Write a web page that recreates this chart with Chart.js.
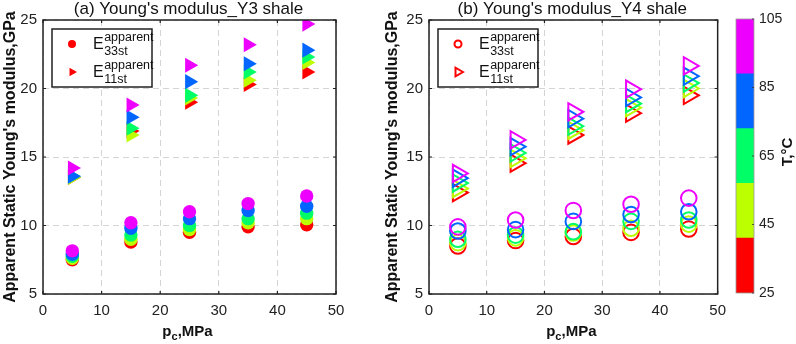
<!DOCTYPE html>
<html>
<head>
<meta charset="utf-8">
<script src="https://cdn.jsdelivr.net/npm/chart.js@4"></script>
<style>
  body { margin: 0; background: #fff; }
  #wrap { position: relative; width: 796px; height: 344px; overflow: hidden; }
  canvas { position: absolute; top: 0; }
</style>
</head>
<body>
<div id="wrap">
  <canvas id="left" width="372" height="344" style="left:0px"></canvas>
  <canvas id="right" width="359" height="344" style="left:375px"></canvas>
  <canvas id="cbar" width="76" height="344" style="left:720px"></canvas>
</div>
<script>
// confining pressure (MPa) and temperature levels (°C)
const pressure = [5, 15, 25, 35, 45];
const temps = [25, 45, 65, 85, 105];
const tempColors = ['#ff0000', '#bbff00', '#00ff66', '#0066ff', '#ee00ff'];
// colour bands of the colorbar (5 equal bands between 25 and 105)
const cbarEdges = [25, 41, 57, 73, 89, 105];
const xTicks = [0, 10, 20, 30, 40, 50];
const yTicks = [5, 10, 15, 20, 25];

// Y3 shale, one row per temperature (25 .. 105)
const y3E33 = [
    [7.5, 8.8, 9.5, 9.9, 10.05],
    [7.6, 9.0, 9.7, 10.2, 10.5],
    [7.75, 9.3, 10.0, 10.5, 10.9],
    [7.9, 9.8, 10.5, 11.1, 11.4],
    [8.15, 10.2, 11.0, 11.6, 12.15]
];
const y3E11 = [
    [13.5, 16.9, 19.0, 20.3, 21.2],
    [13.5, 16.6, 19.3, 20.6, 21.9],
    [13.6, 17.1, 19.5, 21.2, 22.3],
    [13.6, 17.9, 20.5, 21.8, 22.8],
    [14.2, 18.8, 21.7, 23.2, 24.7]
];
// Y4 shale
const y4E33 = [
    [8.5, 8.9, 9.2, 9.5, 9.75],
    [8.75, 9.1, 9.45, 9.8, 10.1],
    [9.0, 9.3, 9.55, 10.3, 10.4],
    [9.6, 9.7, 10.3, 10.8, 11.0],
    [9.9, 10.4, 11.1, 11.55, 12.0]
];
const y4E11 = [
    [12.4, 14.55, 16.6, 18.2, 19.5],
    [12.7, 14.9, 16.95, 18.6, 20.0],
    [13.1, 15.3, 17.25, 18.9, 20.4],
    [13.45, 15.75, 17.8, 19.35, 20.9],
    [13.8, 16.25, 18.3, 19.95, 21.65]
];

const FONT = '"Liberation Sans", Arial, sans-serif';

// build datasets; later temperatures go first so they end up on top
function buildDatasets(e33, e11, filled) {
    const sets = [];
    for (let i = temps.length - 1; i >= 0; i--) {
        sets.push({
            label: 'E33 ' + temps[i],
            data: pressure.map((p, j) => ({x: p, y: e33[i][j]})),
            pointStyle: 'circle',
            pointRadius: filled ? 6.7 : 7.8,
            borderWidth: filled ? 0 : 2,
            borderColor: tempColors[i],
            backgroundColor: filled ? tempColors[i] : 'rgba(0,0,0,0)',
            showLine: false
        });
    }
    for (let i = temps.length - 1; i >= 0; i--) {
        sets.push({
            label: 'E11 ' + temps[i],
            data: pressure.map((p, j) => ({x: p, y: e11[i][j]})),
            pointStyle: 'triangle',
            rotation: 90,
            pointRadius: filled ? 8.7 : 10,
            borderWidth: filled ? 0 : 2,
            borderColor: tempColors[i],
            backgroundColor: filled ? tempColors[i] : 'rgba(0,0,0,0)',
            showLine: false
        });
    }
    return sets;
}

// box, inward ticks, title, x title with subscript, legend with super/subscripts
const decorations = {
    id: 'decorations',
    afterDraw(chart, args, opts) {
        const ctx = chart.ctx;
        const a = chart.chartArea;
        const xs = chart.scales.x, ys = chart.scales.y;
        ctx.save();
        ctx.strokeStyle = '#222';
        ctx.lineWidth = 1.2;
        ctx.beginPath();
        xTicks.forEach(t => {
            const px = xs.getPixelForValue(t);
            ctx.moveTo(px, a.bottom); ctx.lineTo(px, a.bottom - 3);
            ctx.moveTo(px, a.top); ctx.lineTo(px, a.top + 3);
        });
        yTicks.forEach(t => {
            const py = ys.getPixelForValue(t);
            ctx.moveTo(a.left, py); ctx.lineTo(a.left + 3, py);
            ctx.moveTo(a.right, py); ctx.lineTo(a.right - 3, py);
        });
        ctx.stroke();
        ctx.lineWidth = 1.5;
        ctx.strokeRect(a.left, a.top, a.right - a.left, a.bottom - a.top);

        // panel title, centred over the plot area
        ctx.fillStyle = '#111';
        ctx.textBaseline = 'alphabetic';
        ctx.textAlign = 'center';
        ctx.font = '17px ' + FONT;
        ctx.fillText(opts.title, (a.left + a.right) / 2 - 1, 14);
        ctx.textAlign = 'left';

        // x axis title: p_c,MPa
        const base = 336;
        ctx.font = 'bold 15px ' + FONT;
        const wp = ctx.measureText('p').width;
        ctx.font = 'bold 11px ' + FONT;
        const wc = ctx.measureText('c').width;
        ctx.font = 'bold 15px ' + FONT;
        const wr = ctx.measureText(',MPa').width;
        let x0 = (a.left + a.right) / 2 - (wp + wc + wr) / 2 - 2;
        ctx.fillText('p', x0, base);
        ctx.font = 'bold 11px ' + FONT;
        ctx.fillText('c', x0 + wp, base + 4);
        ctx.font = 'bold 15px ' + FONT;
        ctx.fillText(',MPa', x0 + wp + wc, base);

        // legend
        const lx = a.left + 9, ly = a.top + 9;
        ctx.fillStyle = '#fff';
        ctx.fillRect(lx, ly, 100, 58);
        ctx.lineWidth = 1.5;
        ctx.strokeStyle = '#222';
        ctx.strokeRect(lx, ly, 100, 58);
        const red = tempColors[0];
        // circle marker
        ctx.beginPath();
        ctx.arc(lx + 20, ly + 15, opts.filled ? 4 : 3.5, 0, Math.PI * 2);
        if (opts.filled) { ctx.fillStyle = red; ctx.fill(); }
        else { ctx.strokeStyle = red; ctx.lineWidth = 2; ctx.stroke(); }
        // triangle marker
        const tx = lx + 20, ty = ly + 43, r = 5;
        ctx.beginPath();
        ctx.moveTo(tx + r, ty);
        ctx.lineTo(tx - r / 2, ty - r * 0.866);
        ctx.lineTo(tx - r / 2, ty + r * 0.866);
        ctx.closePath();
        if (opts.filled) { ctx.fillStyle = red; ctx.fill(); }
        else { ctx.strokeStyle = red; ctx.lineWidth = 2; ctx.stroke(); }

        const rows = [['33st', ly + 20], ['11st', ly + 48]];
        rows.forEach(([sub, yb]) => {
            ctx.fillStyle = '#111';
            ctx.font = '16px ' + FONT;
            ctx.fillText('E', lx + 41, yb);
            const we = ctx.measureText('E').width;
            ctx.font = '12.5px ' + FONT;
            ctx.fillText('apparent', lx + 41 + we + 0.5, yb - 8);
            ctx.fillText(sub, lx + 41 + we + 0.5, yb + 6);
        });
        ctx.restore();
    }
};

function makeChart(id, title, e33, e11, filled, yAxisWidth, yTitlePad, padRight) {
    return new Chart(document.getElementById(id), {
        type: 'scatter',
        data: { datasets: buildDatasets(e33, e11, filled) },
        plugins: [decorations],
        options: {
            responsive: false,
            animation: false,
            layout: { padding: { left: 0, right: padRight, top: 20, bottom: 0 } },
            plugins: {
                legend: { display: false },
                tooltip: { enabled: false },
                title: { display: false },
                decorations: { filled: filled, title: title }
            },
            scales: {
                x: {
                    type: 'linear',
                    min: 0, max: 50,
                    afterFit: s => { s.height = 50; },
                    afterBuildTicks: s => { s.ticks = xTicks.map(v => ({value: v})); },
                    ticks: { color: '#222', font: { family: FONT, size: 15 }, padding: 8, maxRotation: 0 },
                    grid: { color: '#d4d4d4', lineWidth: 1, drawTicks: false },
                    border: { display: false, dash: [6, 4] }
                },
                y: {
                    type: 'linear',
                    min: 5, max: 25,
                    afterFit: s => { s.width = yAxisWidth; },
                    afterBuildTicks: s => { s.ticks = yTicks.map(v => ({value: v})); },
                    ticks: { color: '#222', font: { family: FONT, size: 15 }, padding: 6 },
                    grid: { color: '#d4d4d4', lineWidth: 1, drawTicks: false },
                    border: { display: false, dash: [6, 4] },
                    title: {
                        display: true,
                        text: "Apparent Static Young's modulus,GPa",
                        color: '#111',
                        font: { family: FONT, size: 16, weight: 'bold' },
                        padding: { top: yTitlePad, bottom: 0 }
                    }
                }
            }
        }
    });
}

makeChart('left', "(a) Young's modulus_Y3 shale", y3E33, y3E11, true, 43, 1.4, 36);
makeChart('right', "(b) Young's modulus_Y4 shale", y4E33, y4E11, false, 54, 8, 12);

// colorbar: one floating bar per colour band
const cbarLabel = {
    id: 'cbarLabel',
    afterDraw(chart) {
        const ctx = chart.ctx;
        const a = chart.chartArea;
        ctx.save();
        ctx.strokeStyle = '#999';
        ctx.lineWidth = 0.8;
        ctx.strokeRect(a.left, a.top, a.right - a.left, a.bottom - a.top);
        ctx.strokeStyle = '#333';
        ctx.beginPath();
        temps.forEach(t => {
            const py = chart.scales.y.getPixelForValue(t);
            ctx.moveTo(a.right, py); ctx.lineTo(a.right - 2, py);
        });
        ctx.stroke();
        ctx.translate(68, (a.top + a.bottom) / 2 - 4);
        ctx.rotate(-Math.PI / 2);
        ctx.fillStyle = '#111';
        ctx.font = 'bold 15px ' + FONT;
        ctx.textAlign = 'center';
        ctx.textBaseline = 'middle';
        ctx.fillText('T,°C', 0, 0);
        ctx.restore();
    }
};

new Chart(document.getElementById('cbar'), {
    type: 'bar',
    data: {
        labels: ['T'],
        datasets: tempColors.map((c, i) => ({
            data: [[cbarEdges[i], cbarEdges[i + 1]]],
            backgroundColor: c,
            borderWidth: 0,
            grouped: false,
            barPercentage: 1,
            categoryPercentage: 1
        }))
    },
    plugins: [cbarLabel],
    options: {
        responsive: false,
        animation: false,
        layout: { padding: { left: 16, right: 0, top: 19, bottom: 51 } },
        plugins: { legend: { display: false }, tooltip: { enabled: false } },
        scales: {
            x: { display: false },
            y: {
                position: 'right',
                min: 25, max: 105,
                afterFit: s => { s.width = 42; },
                afterBuildTicks: s => { s.ticks = temps.map(v => ({value: v})); },
                ticks: { color: '#222', font: { family: FONT, size: 14 }, padding: 5 },
                grid: { display: false, drawTicks: false },
                border: { display: false }
            }
        }
    }
});
</script>
</body>
</html>
